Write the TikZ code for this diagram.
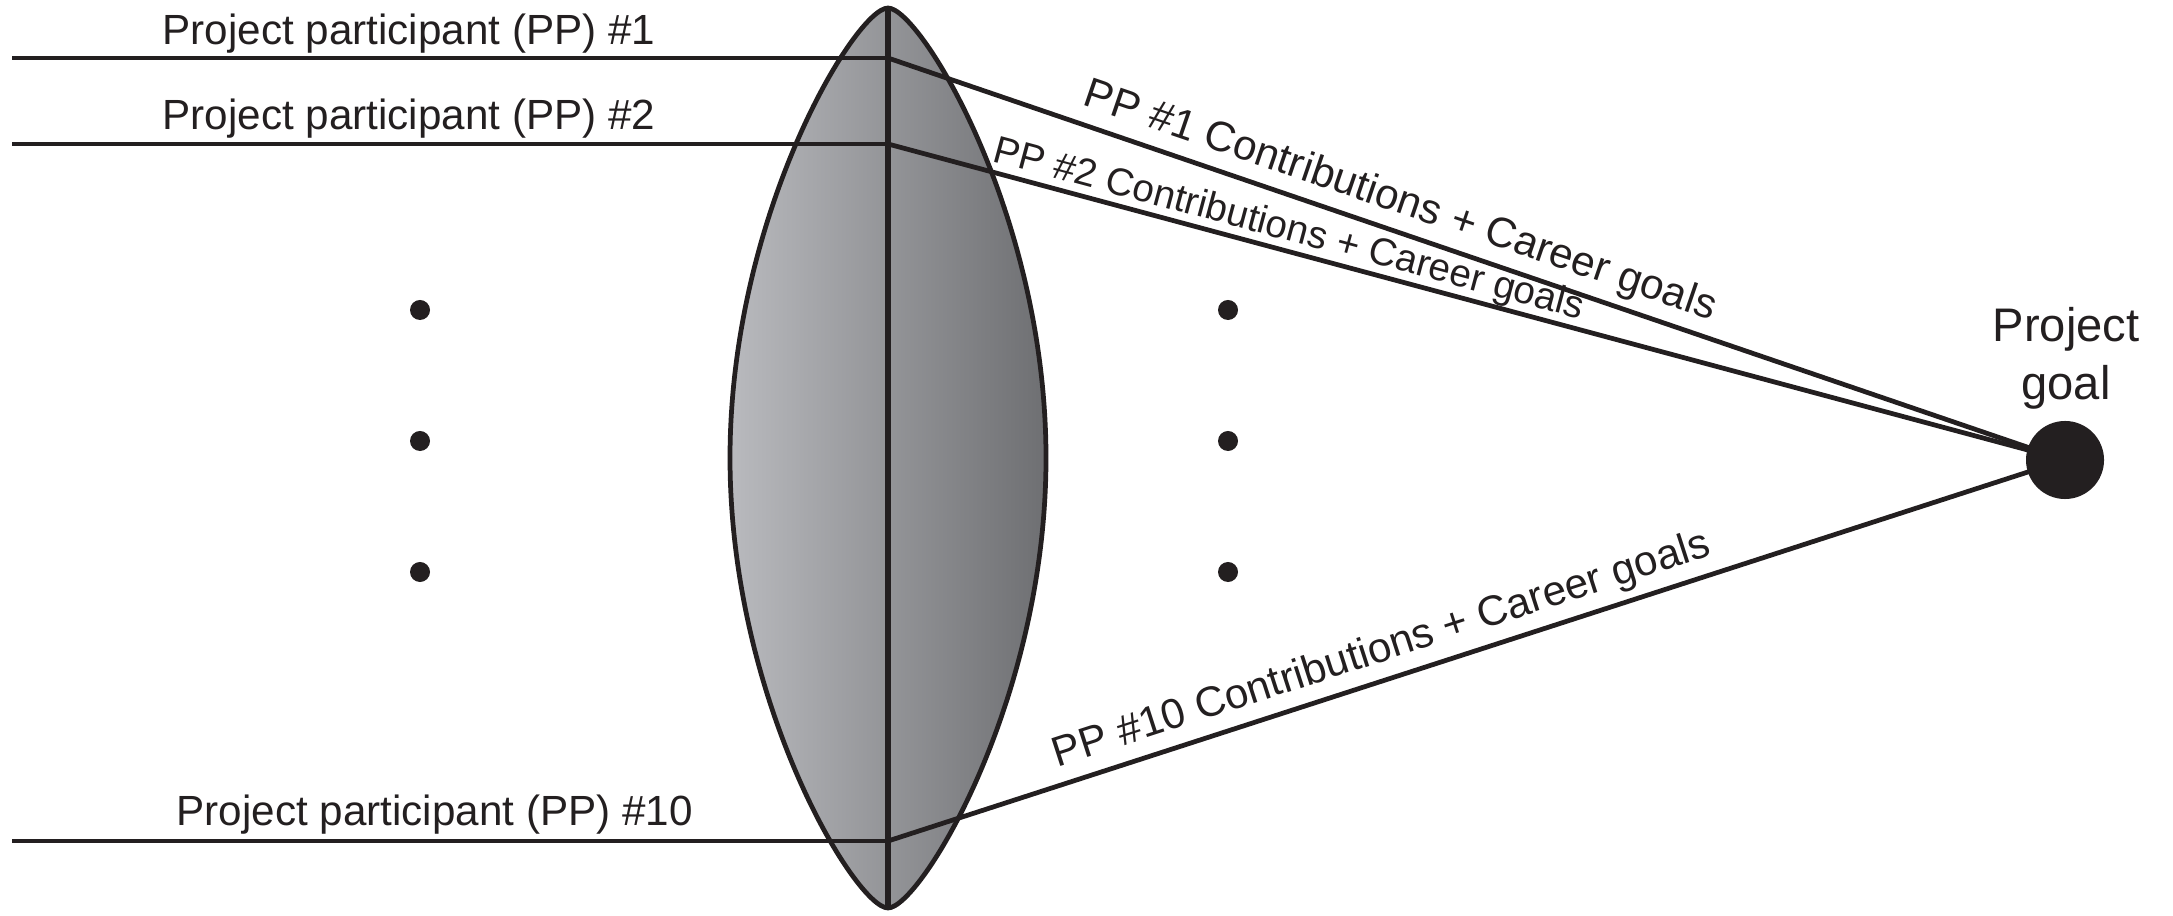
\documentclass[tikz,border=0pt]{standalone}
\usepackage{fontspec}
\setmainfont{Liberation Sans}
\definecolor{ink}{HTML}{231F20}
\definecolor{lensL}{HTML}{B9BABE}
\definecolor{lensR}{HTML}{6E6F72}
\begin{document}
\begin{tikzpicture}[x=0.01cm, y=-0.01cm,
  wire/.style={draw=ink, line width=1.35pt},
  axisline/.style={draw=ink, line width=1.7pt},
  pplabel/.style={font=\fontsize{12}{14}\selectfont, text=ink, inner sep=0pt, anchor=base west},
  flowlabel/.style={font=\fontsize{12}{14}\selectfont, text=ink, sloped, above, inner sep=2pt},
  smalldot/.style={circle, fill=ink, inner sep=0pt, minimum size=0.2cm},
  goaldot/.style={circle, fill=ink, inner sep=0pt, minimum size=0.78cm}]

\useasboundingbox (0,0) rectangle (2173,916);

% lens body with horizontal shading, blunt rounded tips
\shade[left color=lensL, right color=lensR, draw=ink, line width=1.35pt]
  (888,8) .. controls (856,8) and (730,214) .. (730,458)
          .. controls (730,702) and (856,908) .. (888,908)
          .. controls (920,908) and (1046,702) .. (1046,458)
          .. controls (1046,214) and (920,8) .. (888,8) -- cycle;

% lens axis
\coordinate (ltop) at (888,8);
\coordinate (lbot) at (888,908);
\draw[axisline] (ltop) -- (lbot);

% participant inputs
\coordinate (s1) at (12,58);   \coordinate (c1) at (888,58);
\coordinate (s2) at (12,144);  \coordinate (c2) at (888,144);
\coordinate (s10) at (12,841); \coordinate (c10) at (888,841);
\draw[wire] (s1) -- (c1);
\draw[wire] (s2) -- (c2);
\draw[wire] (s10) -- (c10);

\node[pplabel] (t1) at (162,45) {Project participant (PP) \#1};
\node[pplabel] (t2) at (162,130) {Project participant (PP) \#2};
\node[pplabel] (t10) at (176,825) {Project participant (PP) \#10};

% project goal
\node[goaldot] (goal) at (2065,460) {};
\node[font=\fontsize{13.4}{16.5}\selectfont, text=ink, align=center, anchor=north, inner sep=0pt]
  (goaltxt) at (2066,307) {Project\\goal};

% converging contributions
\draw[wire] (c1) -- (goal.center)
  node[flowlabel, pos=0.427] (r1) {PP \#1 Contributions + Career goals};
\draw[wire] (c2) -- (goal.center)
  node[flowlabel, pos=0.336, inner sep=0pt, font=\fontsize{11}{13}\selectfont] (r2) {PP \#2 Contributions + Career goals};
\draw[wire] (c10) -- (goal.center)
  node[flowlabel, pos=0.427] (r10) {PP \#10 Contributions + Career goals};

% ellipsis dots
\node[smalldot] (dl1) at (420,310) {};
\node[smalldot] (dl2) at (420,441) {};
\node[smalldot] (dl3) at (420,572) {};
\node[smalldot] (dr1) at (1228,310) {};
\node[smalldot] (dr2) at (1228,441) {};
\node[smalldot] (dr3) at (1228,572) {};

\end{tikzpicture}
\end{document}
